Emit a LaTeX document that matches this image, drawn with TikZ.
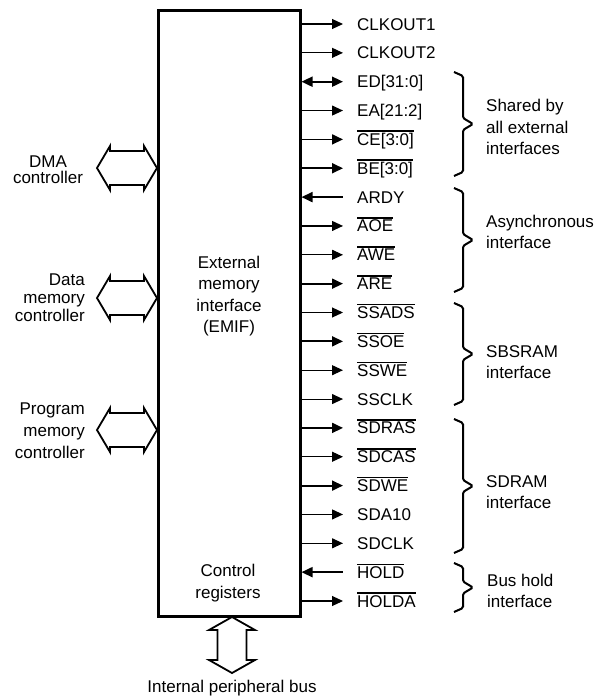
\documentclass[tikz,border=0pt]{standalone}
\usepackage{fontspec}
\setmainfont{Liberation Sans}
\usetikzlibrary{arrows.meta}
\newcommand\ovl[1]{\vbox{\hrule height 1.4pt\kern 1.3pt\hbox{#1}}}
\newcommand\hbus[3]{%
  \draw[bus] (#1,#3) -- ({#1+13},{#3-22}) -- ({#1+13},{#3-17}) -- ({#2-13},{#3-17})
    -- ({#2-13},{#3-22}) -- (#2,#3) -- ({#2-13},{#3+22}) -- ({#2-13},{#3+17})
    -- ({#1+13},{#3+17}) -- ({#1+13},{#3+22}) -- cycle;}
\newcommand\mybrace[2]{%
  \draw[brc] (454,#1) -- (463,{#1+4}) -- (463,{(#1+#2)/2-6}) -- (473,{(#1+#2)/2})
    -- (463,{(#1+#2)/2+6}) -- (463,{#2-4}) -- (454,#2);}
\newcommand\mysig[4]{%
  \pgfmathsetmacro\yy{24+28.85*#1}
  \coordinate (p#1) at (343,\yy);
  \node[siglabel] (s#1) at (357,\yy+6) {#2};
  \draw[#3,#4] (emif.east |- p#1) -- (p#1);}
\begin{document}
\begin{tikzpicture}[x=1pt,y=-1pt,
  every node/.style={font=\fontsize{17}{21.5}\selectfont, inner sep=0pt},
  box/.style={draw, line width=3pt, minimum width=142pt, minimum height=606pt},
  sigout/.style={-{Triangle[length=11pt,width=10pt]}},
  sigin/.style={{Triangle[length=11pt,width=10pt]}-},
  sigbi/.style={{Triangle[length=11pt,width=10pt]}-{Triangle[length=11pt,width=10pt]}},
  thinsig/.style={line width=1.1pt},
  thicksig/.style={line width=1.8pt},
  bus/.style={draw, line width=1.8pt, fill=white},
  brc/.style={line width=2pt, rounded corners=1.5pt},
  siglabel/.style={anchor=base west},
  brlabel/.style={anchor=west, align=left}
]
\useasboundingbox (0,0) rectangle (602,699);
\node[box, anchor=north west] (emif) at (156.5,8.5) {};
\node[align=center] (emiftxt) at (229,296) {External\\memory\\interface\\(EMIF)};
\node[align=center] (ctrl) at (228,583) {Control\\registers};

\mysig{0}{CLKOUT1}{sigout}{thinsig}
\mysig{1}{CLKOUT2}{sigout}{thinsig}
\mysig{2}{ED[31:0]}{sigbi}{thicksig}
\mysig{3}{EA[21:2]}{sigout}{thinsig}
\mysig{4}{\ovl{CE[3:0]}}{sigout}{thicksig}
\mysig{5}{\ovl{BE[3:0]}}{sigout}{thicksig}
\mysig{6}{ARDY}{sigin}{thicksig}
\mysig{7}{\ovl{AOE}}{sigout}{thinsig}
\mysig{8}{\ovl{AWE}}{sigout}{thinsig}
\mysig{9}{\ovl{ARE}}{sigout}{thicksig}
\mysig{10}{\ovl{SSADS}}{sigout}{thinsig}
\mysig{11}{\ovl{SSOE}}{sigout}{thicksig}
\mysig{12}{\ovl{SSWE}}{sigout}{thinsig}
\mysig{13}{SSCLK}{sigout}{thinsig}
\mysig{14}{\ovl{SDRAS}}{sigout}{thicksig}
\mysig{15}{\ovl{SDCAS}}{sigout}{thinsig}
\mysig{16}{\ovl{SDWE}}{sigout}{thicksig}
\mysig{17}{SDA10}{sigout}{thinsig}
\mysig{18}{SDCLK}{sigout}{thinsig}
\mysig{19}{\ovl{HOLD}}{sigin}{thicksig}
\mysig{20}{\ovl{HOLDA}}{sigout}{thinsig}

\mybrace{72}{176}
\mybrace{188}{292}
\mybrace{303}{405}
\mybrace{419}{553}
\mybrace{563}{612}
\node[brlabel] (lsh) at (486,127) {Shared by\\all external\\interfaces};
\node[brlabel] (las) at (486,232) {Asynchronous\\interface};
\node[brlabel] (lsb) at (486,362) {SBSRAM\\interface};
\node[brlabel] (lsd) at (486,492) {SDRAM\\interface};
\node[brlabel] (lbh) at (487,591) {Bus hold\\interface};

\node[align=center, font=\fontsize{17}{16}\selectfont] (dma) at (48,170) {DMA\\controller};
\node[align=right, anchor=east, font=\fontsize{17}{18}\selectfont] (dmc) at (85,298) {Data\\memory\\controller};
\node[align=right, anchor=east, font=\fontsize{17}{22}\selectfont] (pmc) at (85,431) {Program\\memory\\controller};
\hbus{97}{157}{168}
\hbus{97}{157}{298}
\hbus{97}{157}{430}

\draw[bus] (232,617) -- (255,630) -- (246.5,630) -- (246.5,660) -- (255,660) -- (232,673)
  -- (209,660) -- (217.5,660) -- (217.5,630) -- (209,630) -- cycle;
\node (ipb) at (232,688) {Internal peripheral bus};
\end{tikzpicture}
\end{document}
